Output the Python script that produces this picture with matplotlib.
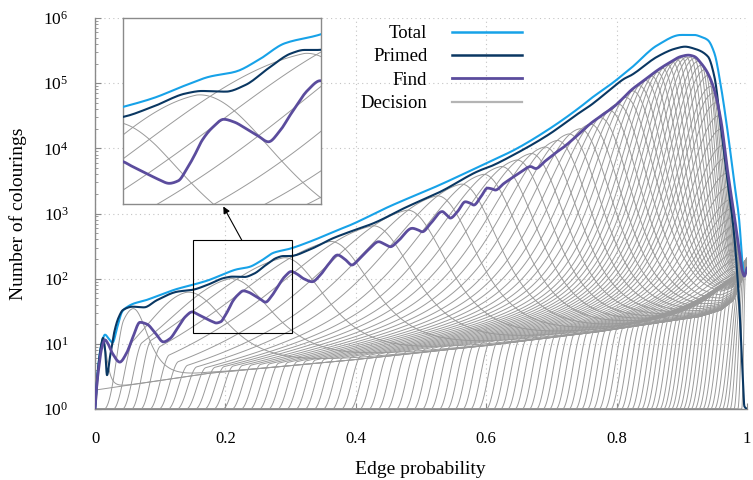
import numpy as np
import matplotlib
matplotlib.use("Agg")
import matplotlib.pyplot as plt
from matplotlib.collections import LineCollection
from matplotlib.lines import Line2D
from matplotlib.patches import Rectangle
from matplotlib.ticker import FixedLocator, LogLocator, NullFormatter, FuncFormatter

plt.rcParams['font.family'] = ['Liberation Serif', 'DejaVu Serif']
plt.rcParams['mathtext.fontset'] = 'custom'
plt.rcParams['mathtext.rm'] = 'Liberation Serif'
plt.rcParams['mathtext.it'] = 'Liberation Serif:italic'

# ---------------- data (log10 of number of colourings) ----------------
total_p = [0, 0.004, 0.009, 0.0154, 0.021, 0.027, 0.034, 0.042, 0.050, 0.060,
           0.075, 0.10, 0.125, 0.15, 0.1736, 0.199, 0.2166, 0.2366, 0.254, 0.274,
           0.299, 0.33, 0.376, 0.391, 0.452, 0.529, 0.606, 0.642, 0.694, 0.745,
           0.760, 0.796, 0.812, 0.822, 0.863, 0.899, 0.919, 0.930, 0.940, 0.950,
           0.960, 0.970, 0.980, 0.988, 0.993, 0.996, 1.0]
total_log = [0, 0.55, 0.95, 1.14, 1.08, 1.02, 1.25, 1.50, 1.57, 1.62,
             1.66, 1.75, 1.84, 1.906, 1.975, 2.077, 2.141, 2.180, 2.27, 2.398,
             2.46, 2.57, 2.76, 2.82, 3.11, 3.44, 3.80, 3.97, 4.28, 4.64,
             4.76, 5.02, 5.15, 5.23, 5.585, 5.74, 5.74, 5.71, 5.66, 5.46,
             4.95, 4.28, 3.51, 2.90, 2.25, 2.06, 2.16]

primed_p = [0, 0.004, 0.009, 0.0123, 0.0155, 0.0184, 0.023, 0.030, 0.036, 0.043,
            0.058, 0.075, 0.095, 0.126, 0.15, 0.1736, 0.199, 0.211, 0.229, 0.244,
            0.2616, 0.279, 0.289, 0.299, 0.33, 0.365, 0.391, 0.427, 0.478, 0.529,
            0.59, 0.606, 0.642, 0.694, 0.745, 0.76, 0.796, 0.812, 0.822, 0.863,
            0.89, 0.905, 0.919, 0.94, 0.95, 0.96, 0.97, 0.98, 0.988, 0.993,
            0.996, 1.0]
primed_log = [0, 0.55, 0.95, 1.09, 0.90, 0.52, 0.80, 1.20, 1.40, 1.52,
              1.57, 1.56, 1.67, 1.80, 1.83, 1.91, 2.013, 2.031, 2.026, 2.077,
              2.206, 2.321, 2.347, 2.347, 2.45, 2.62, 2.72, 2.85, 3.10, 3.33,
              3.66, 3.72, 3.90, 4.20, 4.56, 4.66, 4.95, 5.07, 5.12, 5.41,
              5.53, 5.56, 5.53, 5.41, 5.10, 4.33, 3.51, 2.70, 1.62, 0.60,
              0.04, 0.0]

find_p = [0, 0.002, 0.006, 0.010, 0.0154, 0.020, 0.027, 0.038, 0.048, 0.058,
          0.069, 0.080, 0.092, 0.105, 0.115, 0.127, 0.139, 0.149, 0.158, 0.1686,
          0.178, 0.186, 0.193, 0.199, 0.205, 0.2113, 0.219, 0.2276, 0.236, 0.244,
          0.253, 0.2616, 0.270, 0.279, 0.2917, 0.301, 0.310, 0.320, 0.333, 0.345,
          0.358, 0.372, 0.383, 0.394, 0.405, 0.420, 0.435, 0.444, 0.453, 0.465,
          0.4865, 0.495, 0.502, 0.515, 0.5325, 0.539, 0.545, 0.556, 0.568, 0.575,
          0.581, 0.592, 0.602, 0.608, 0.614, 0.627, 0.640, 0.655, 0.668, 0.676,
          0.690, 0.705, 0.719, 0.740, 0.760, 0.778, 0.796, 0.810, 0.822, 0.843,
          0.863, 0.882, 0.899, 0.910, 0.919, 0.930, 0.940, 0.950, 0.960, 0.970,
          0.980, 0.988, 0.993, 0.996, 1.0]
find_log = [0, 0.29, 0.65, 0.92, 1.06, 1.0, 0.85, 0.72, 0.85, 1.10,
            1.33, 1.30, 1.17, 1.03, 1.08, 1.25, 1.42, 1.49, 1.45, 1.397,
            1.35, 1.32, 1.34, 1.423, 1.53, 1.654, 1.75, 1.813, 1.79, 1.744,
            1.69, 1.640, 1.72, 1.859, 2.039, 2.11, 2.07, 2.0, 1.953, 2.05,
            2.22, 2.363, 2.30, 2.21, 2.30, 2.45, 2.567, 2.53, 2.49, 2.58,
            2.773, 2.75, 2.72, 2.85, 3.03, 2.98, 2.93, 3.03, 3.18, 3.16,
            3.13, 3.26, 3.39, 3.38, 3.36, 3.46, 3.55, 3.65, 3.72, 3.69,
            3.80, 3.92, 4.02, 4.20, 4.38, 4.51, 4.64, 4.77, 4.89, 5.05,
            5.20, 5.32, 5.41, 5.43, 5.41, 5.30, 5.15, 4.89, 4.43, 3.67,
            3.00, 2.44, 2.11, 2.04, 2.16]

# floor that the decision curves fall back onto
floor_p = [0.0, 0.176, 0.391, 0.606, 0.775, 0.821, 0.928, 0.960, 0.979, 0.994, 1.0]
floor_log = [0.29, 0.55, 0.75, 0.98, 1.19, 1.26, 1.42, 1.52, 1.67, 2.03, 2.16]

# decision curves: where each leaves 1, where it peaks, and the peak height (log10)
dec_start = [0.000, 0.014, 0.028, 0.042, 0.056, 0.070, 0.084, 0.098, 0.112, 0.126,
             0.140, 0.154, 0.168, 0.182, 0.196, 0.210, 0.224, 0.238, 0.252, 0.266,
             0.280, 0.294, 0.308, 0.322, 0.336, 0.350, 0.364, 0.378, 0.392, 0.406,
             0.420, 0.434, 0.448, 0.462, 0.476, 0.489, 0.502, 0.515, 0.528, 0.540,
             0.552, 0.564, 0.576, 0.588, 0.600, 0.611, 0.622, 0.633, 0.644, 0.655,
             0.666, 0.677, 0.687, 0.697, 0.707, 0.717, 0.727, 0.737, 0.746, 0.755,
             0.764, 0.773, 0.782, 0.791, 0.799, 0.807, 0.815, 0.823, 0.831, 0.838,
             0.845, 0.852, 0.859, 0.866, 0.872, 0.878, 0.884, 0.890, 0.896, 0.902,
             0.908, 0.914, 0.920, 0.926, 0.932, 0.938, 0.944, 0.950, 0.956, 0.962,
             0.968, 0.974, 0.980, 0.986, 0.992]
dec_peak = [0.012, 0.058, 0.140, 0.207, 0.289, 0.360, 0.425, 0.478, 0.524, 0.561,
            0.595, 0.622, 0.646, 0.668, 0.689, 0.708, 0.726, 0.743, 0.759, 0.774,
            0.788, 0.801, 0.813, 0.824, 0.834, 0.844, 0.853, 0.862, 0.870, 0.878,
            0.886, 0.893, 0.900, 0.907, 0.913, 0.919, 0.925, 0.930, 0.935, 0.940,
            0.944, 0.948, 0.952, 0.956, 0.960, 0.963, 0.966, 0.969, 0.972, 0.975,
            0.977, 0.979, 0.981, 0.983, 0.985, 0.987, 0.989, 0.991, 0.993, 0.995,
            0.996, 0.997, 0.998, 0.999, 1.0, 1.0, 1.0, 1.0, 1.0, 1.0,
            1.0, 1.0, 1.0, 1.0, 1.0, 1.0, 1.0, 1.0, 1.0, 1.0,
            1.0, 1.0, 1.0, 1.0, 1.0, 1.0, 1.0, 1.0, 1.0, 1.0,
            1.0, 1.0, 1.0, 1.0, 1.0]
dec_height = [1.06, 1.54, 1.79, 2.00, 2.32, 2.57, 2.81, 3.05, 3.27, 3.45,
              3.60, 3.72, 3.82, 3.92, 4.02, 4.12, 4.22, 4.30, 4.37, 4.47,
              4.58, 4.68, 4.78, 4.88, 4.96, 5.04, 5.11, 5.17, 5.23, 5.28,
              5.32, 5.36, 5.39, 5.40, 5.40, 5.38, 5.34, 5.28, 5.21, 5.12,
              4.95, 4.85, 4.70, 4.50, 4.30, 4.05, 3.85, 3.62, 3.42, 3.22,
              3.08, 2.95, 2.82, 2.70, 2.58, 2.45, 2.33, 2.22, 2.12, 2.06,
              2.08, 2.10, 2.10, 2.10, 2.10, 2.10, 2.10, 2.10, 2.10, 2.10,
              2.10, 2.10, 2.10, 2.10, 2.10, 2.10, 2.10, 2.10, 2.10, 2.10,
              2.10, 2.10, 2.10, 2.10, 2.10, 2.10, 2.10, 2.10, 2.10, 2.10,
              2.10, 2.10, 2.10, 2.10, 2.10]

x_ticks = [0, 0.2, 0.4, 0.6, 0.8, 1.0]
x_labels = ['0', '0.2', '0.4', '0.6', '0.8', '1']
y_exponents = [0, 1, 2, 3, 4, 5, 6]
series_names = ['Total', 'Primed', 'Find', 'Decision']

# ---------------- styles ----------------
C_TOTAL = '#17a2e8'
C_PRIMED = '#0a3762'
C_FIND = '#5b4c9d'
C_DEC = '#9a9a9a'
C_AXIS = '#8a8a8a'

# widths of the rising / falling sides of a decision curve, by peak position
WIDTH_P = [0.0, 0.4, 0.6, 0.85, 1.0]
WIDTH_LEFT = [0.15, 0.15, 0.10, 0.055, 0.045]
WIDTH_RIGHT = [0.06, 0.06, 0.055, 0.045, 0.04]

pgrid = np.linspace(0, 1, 1601)


def smooth_line(xk, yk, n_per=12):
    """Monotone cubic (PCHIP) drawing of a line through read points (log space)."""
    x = np.asarray(xk, float)
    y = np.asarray(yk, float)
    h = np.diff(x)
    d = np.diff(y) / h
    m = np.zeros_like(y)
    m[0], m[-1] = d[0], d[-1]
    for k in range(1, len(x) - 1):
        if d[k - 1] * d[k] > 0:
            w1 = 2 * h[k] + h[k - 1]
            w2 = h[k] + 2 * h[k - 1]
            m[k] = (w1 + w2) / (w1 / d[k - 1] + w2 / d[k])
    xs, ys = [], []
    for k in range(len(x) - 1):
        t = np.linspace(0, 1, n_per, endpoint=False)
        h00 = 2 * t ** 3 - 3 * t ** 2 + 1
        h10 = t ** 3 - 2 * t ** 2 + t
        h01 = -2 * t ** 3 + 3 * t ** 2
        h11 = t ** 3 - t ** 2
        xs.append(x[k] + t * h[k])
        ys.append(h00 * y[k] + h10 * h[k] * m[k] + h01 * y[k + 1] + h11 * h[k] * m[k + 1])
    xs.append([x[-1]])
    ys.append([y[-1]])
    return np.concatenate(xs), 10 ** np.concatenate(ys)


def bell(x):
    return (1 + x * x / 4) ** -2


def decision_curve(s, pk, H):
    F = np.interp(pgrid, floor_p, floor_log)
    Fk = np.interp(pk, floor_p, floor_log)
    B = np.interp(s, floor_p, floor_log)
    span = max(pk - s, 1e-3)
    w = min(0.03, 0.7 * span)
    t = np.clip((pgrid - s) / w, 0, 1)
    S = t * t * (3 - 2 * t)
    g = 2.2
    if B + g * span > H:
        g = max(0.0, (H - B) / span)
    A = max(0.0, H - (B + g * span))
    sL = max(0.003, min(np.interp(pk, WIDTH_P, WIDTH_LEFT), 0.6 * span))
    sR = max(0.003, min(np.interp(pk, WIDTH_P, WIDTH_RIGHT), 0.5 * span, 0.25 * (1 - pk)))
    left = S * (B + g * (pgrid - s) + A * bell((pk - pgrid) / sL))
    right = F + (H - Fk) * bell((pgrid - pk) / sR)
    y = np.where(pgrid <= pk, left, right)
    y = np.where(pgrid < s, 0.0, y)
    return 10 ** y


dec_segments = [np.column_stack([pgrid, 10 ** np.interp(pgrid, floor_p, floor_log)])]
for s, pk, H in zip(dec_start, dec_peak, dec_height):
    dec_segments.append(np.column_stack([pgrid, decision_curve(s, pk, H)]))

total_xy = smooth_line(total_p, total_log)
primed_xy = smooth_line(primed_p, primed_log)
find_xy = smooth_line(find_p, find_log)


def draw_all(a):
    a.add_collection(LineCollection(dec_segments, colors=C_DEC, linewidths=0.7, zorder=1))
    a.plot(*total_xy, color=C_TOTAL, lw=1.5, zorder=3, solid_joinstyle='round')
    a.plot(*primed_xy, color=C_PRIMED, lw=1.5, zorder=4, solid_joinstyle='round')
    a.plot(*find_xy, color=C_FIND, lw=2.0, zorder=5, solid_joinstyle='round')


fig = plt.figure(figsize=(7.53, 4.80), dpi=100)
ax = fig.add_axes([95 / 753, 1 - 409 / 480, 652 / 753, 391 / 480])
ax.set_yscale('log')
draw_all(ax)
ax.set_xlim(0, 1)
ax.set_ylim(1, 1e6)

ax.xaxis.set_major_locator(FixedLocator(x_ticks))
ax.set_xticklabels(x_labels)
ax.yaxis.set_major_locator(FixedLocator([10.0 ** e for e in y_exponents]))
ax.yaxis.set_major_formatter(FuncFormatter(lambda v, pos: r'$10^{%d}$' % round(np.log10(v))))
ax.yaxis.set_minor_locator(LogLocator(base=10, subs=np.arange(2, 10), numticks=20))
ax.yaxis.set_minor_formatter(NullFormatter())

for side in ['top', 'right']:
    ax.spines[side].set_visible(False)
for side in ['left', 'bottom']:
    ax.spines[side].set_color(C_AXIS)
    ax.spines[side].set_linewidth(1.0)
ax.tick_params(axis='both', which='both', direction='in', color=C_AXIS, labelcolor='black')
ax.tick_params(axis='x', which='major', length=4, pad=16, labelsize=12)
ax.tick_params(axis='y', which='major', length=4, pad=19, labelsize=12.5)
ax.tick_params(axis='y', which='minor', length=2.5)
ax.set_axisbelow(True)
ax.grid(True, which='major', color='#c4c4c4', linestyle=(0, (1, 3)), linewidth=0.8)

ax.set_xlabel('Edge probability', fontsize=14)
ax.set_ylabel('Number of colourings', fontsize=14)
ax.xaxis.set_label_coords(0.4985, -0.133)
ax.yaxis.set_label_coords(-0.104, 0.5)

# zoom rectangle and inset
rx0, rx1 = 0.1505, 0.3016
ry0, ry1 = 10 ** 1.161, 10 ** 2.593
ax.add_patch(Rectangle((rx0, ry0), rx1 - rx0, ry1 - ry0, fill=False,
                       edgecolor='black', lw=0.8, zorder=6))

axin = fig.add_axes([122.5 / 753, 1 - 204 / 480, 198.5 / 753, 186 / 480])
axin.set_yscale('log')
draw_all(axin)
axin.set_xlim(rx0, rx1)
axin.set_ylim(ry0, ry1)
axin.set_xticks([])
axin.set_yticks([])
axin.yaxis.set_minor_locator(FixedLocator([]))
for sp in axin.spines.values():
    sp.set_color(C_AXIS)
    sp.set_linewidth(1.0)
axin.set_facecolor('white')

ax.annotate('', xy=(223.3 / 753, 1 - 206.5 / 480), xycoords='figure fraction',
            xytext=(0.225, ry1), textcoords='data',
            arrowprops=dict(arrowstyle='-|>', color='black', lw=0.8,
                            shrinkA=0, shrinkB=0, mutation_scale=10), zorder=7)

handles = [Line2D([], [], color=C_TOTAL, lw=1.8),
           Line2D([], [], color=C_PRIMED, lw=1.8),
           Line2D([], [], color=C_FIND, lw=2.0),
           Line2D([], [], color='#b4b4b4', lw=1.6)]
leg = ax.legend(handles, series_names, loc='upper right',
                bbox_to_anchor=(522 / 753, 1 - 25 / 480), bbox_transform=fig.transFigure,
                frameon=False, markerfirst=False, fontsize=13.5,
                handlelength=3.75, handletextpad=1.3, labelspacing=0.33,
                borderpad=0, borderaxespad=0)
leg.set_zorder(8)

fig.savefig('out.png', dpi=100)
